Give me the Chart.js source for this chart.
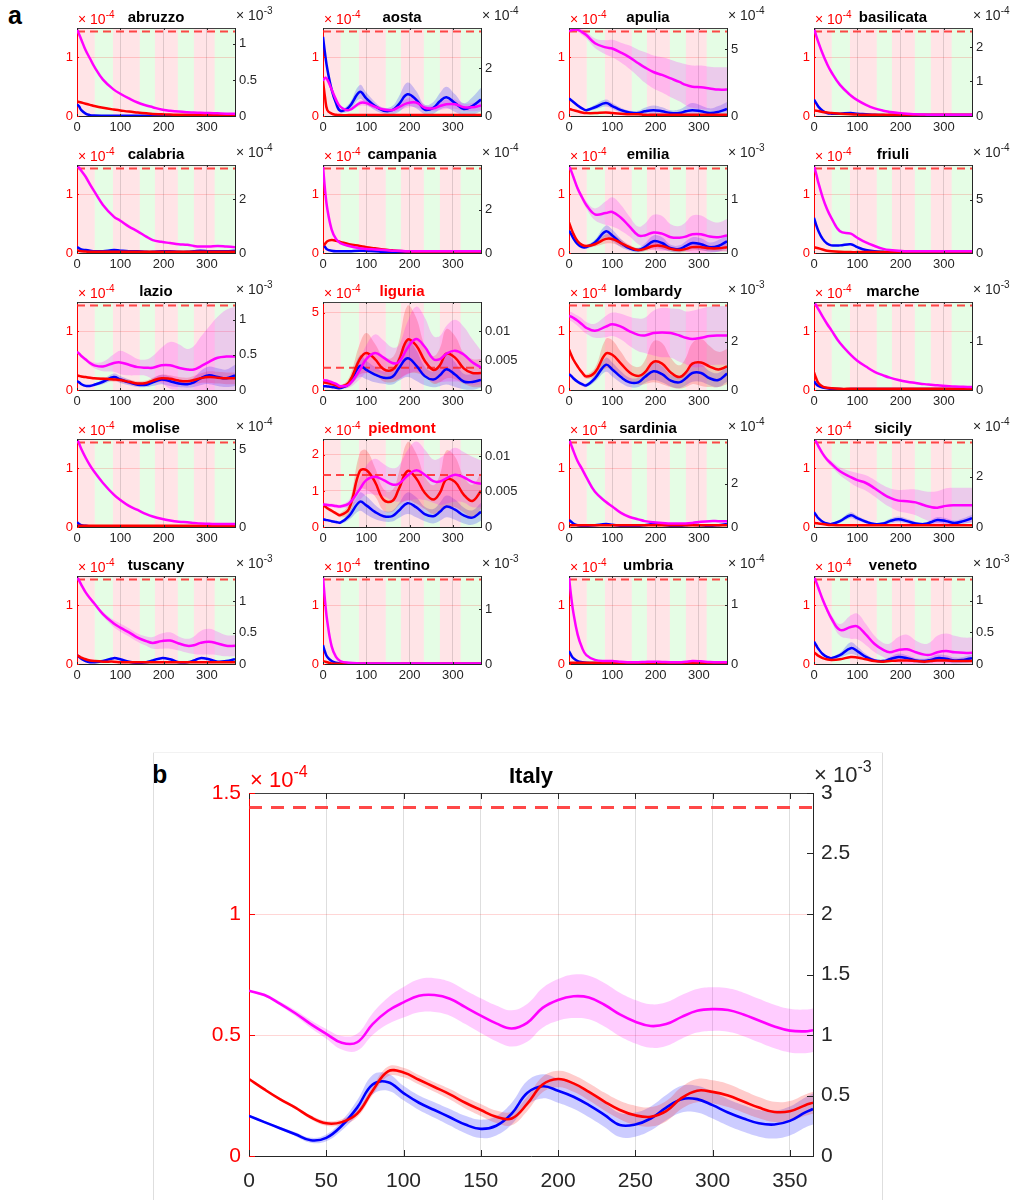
<!DOCTYPE html>
<html>
<head>
<meta charset="utf-8">
<script src="https://cdn.jsdelivr.net/npm/chart.js@4.4.1/dist/chart.umd.min.js"></script>
<style>
  body { margin: 0; background: #fff; width: 1014px; height: 1200px; position: relative; overflow: hidden;
         font-family: "Liberation Sans", Arial, Helvetica, sans-serif; }
  canvas { position: absolute; }
  .tag { position: absolute; font-weight: bold; font-size: 25px; color: #000; }
  .frame { position: absolute; background: #dedede; }
</style>
</head>
<body>
<div class="tag" style="left:8px;top:1px">a</div>
<div class="tag" style="left:152px;top:760px">b</div>
<div class="frame" style="left:153px;top:752px;width:1px;height:448px"></div>
<div class="frame" style="left:882px;top:752px;width:1px;height:448px"></div>
<div class="frame" style="left:153px;top:752px;width:730px;height:1px;background:#f2f2f2"></div>
<script>
// ---- shared axes / phases ----
const days = [0, 5, 10, 20, 30, 40, 60, 85, 100, 120, 140, 160, 175, 195, 215, 235, 255, 270, 285, 305, 325, 345, 365];
const xTicks = [0, 100, 200, 300];
const phaseEdges = [0, 41, 83, 145, 180, 233, 270, 318, 365]; // alternating pink / green, starting pink
const threshold = 1.44; // x10^-4

// ---- regional series (x10^-4, left axis units) ----
const abruzzo_m = [1.48,1.39,1.3,1.12,0.98,0.84,0.62,0.45,0.38,0.3,0.23,0.18,0.15,0.11,0.09,0.075,0.065,0.06,0.055,0.05,0.045,0.04,0.04];
const abruzzo_b = [0.2,0.16,0.1,0.04,0.015,0.008,0.005,0.005,0.005,0.005,0.005,0.005,0.005,0.005,0.005,0.005,0.005,0.005,0.005,0.005,0.005,0.005,0.005];
const abruzzo_r = [0.25,0.24,0.23,0.21,0.19,0.17,0.14,0.11,0.095,0.075,0.06,0.045,0.035,0.03,0.025,0.02,0.02,0.02,0.02,0.02,0.02,0.02,0.02];

const aosta_m = [0.6,0.65,0.62,0.45,0.28,0.16,0.1,0.22,0.22,0.16,0.11,0.1,0.15,0.22,0.23,0.14,0.13,0.17,0.2,0.2,0.15,0.15,0.18];
const aosta_mS = [0.03,0.03,0.03,0.03,0.02,0.02,0.02,0.05,0.05,0.04,0.03,0.04,0.06,0.08,0.08,0.05,0.05,0.07,0.08,0.08,0.06,0.07,0.08];
const aosta_b = [1.35,1.05,0.8,0.45,0.22,0.09,0.15,0.41,0.3,0.17,0.09,0.1,0.2,0.37,0.28,0.11,0.14,0.25,0.32,0.22,0.12,0.17,0.28];
const aosta_bS = [0.02,0.02,0.02,0.03,0.03,0.03,0.06,0.12,0.1,0.07,0.05,0.07,0.13,0.2,0.15,0.08,0.1,0.14,0.18,0.15,0.1,0.15,0.2];
const aosta_r = [0.6,0.3,0.1,0.04,0.02,0.015,0.015,0.015,0.015,0.015,0.015,0.015,0.015,0.015,0.015,0.015,0.015,0.015,0.015,0.015,0.015,0.015,0.015];

const apulia_m = [1.45,1.46,1.47,1.47,1.43,1.38,1.24,1.17,1.15,1.08,1.0,0.9,0.83,0.75,0.7,0.64,0.58,0.53,0.5,0.49,0.47,0.45,0.45];
const apulia_mS = [0.03,0.03,0.03,0.04,0.05,0.06,0.08,0.12,0.15,0.17,0.2,0.23,0.26,0.28,0.3,0.32,0.33,0.35,0.36,0.37,0.37,0.38,0.38];
const apulia_b = [0.3,0.27,0.24,0.18,0.13,0.1,0.15,0.22,0.17,0.1,0.06,0.05,0.08,0.1,0.08,0.05,0.05,0.08,0.1,0.08,0.05,0.07,0.12];
const apulia_bS = [0.02,0.02,0.02,0.02,0.02,0.02,0.04,0.06,0.05,0.04,0.03,0.04,0.06,0.08,0.07,0.05,0.06,0.09,0.12,0.1,0.08,0.1,0.12];
const apulia_r = [0.12,0.11,0.1,0.08,0.06,0.05,0.05,0.06,0.05,0.04,0.03,0.03,0.02,0.02,0.02,0.02,0.02,0.02,0.02,0.02,0.02,0.02,0.02];

const basilicata_m = [1.5,1.37,1.26,1.06,0.89,0.75,0.53,0.35,0.27,0.19,0.13,0.09,0.07,0.05,0.04,0.03,0.025,0.02,0.02,0.02,0.02,0.02,0.02];
const basilicata_b = [0.28,0.22,0.16,0.09,0.05,0.04,0.04,0.05,0.04,0.03,0.02,0.015,0.015,0.015,0.015,0.015,0.015,0.015,0.015,0.015,0.015,0.015,0.015];
const basilicata_r = [0.1,0.09,0.085,0.07,0.06,0.05,0.04,0.03,0.025,0.02,0.02,0.02,0.02,0.02,0.02,0.02,0.02,0.02,0.02,0.02,0.02,0.02,0.02];

const calabria_m = [1.48,1.45,1.4,1.3,1.17,1.05,0.82,0.62,0.55,0.45,0.37,0.28,0.22,0.19,0.17,0.15,0.14,0.12,0.11,0.11,0.12,0.11,0.1];
const calabria_b = [0.1,0.08,0.06,0.05,0.04,0.03,0.03,0.05,0.04,0.03,0.03,0.02,0.02,0.03,0.03,0.02,0.02,0.03,0.04,0.03,0.03,0.03,0.04];
const calabria_r = [0.04,0.035,0.03,0.025,0.02,0.02,0.02,0.02,0.02,0.02,0.02,0.02,0.02,0.02,0.02,0.02,0.02,0.02,0.02,0.02,0.02,0.02,0.02];

const campania_m = [1.48,1.05,0.75,0.4,0.24,0.17,0.12,0.08,0.07,0.06,0.05,0.04,0.04,0.03,0.03,0.03,0.03,0.03,0.03,0.03,0.03,0.03,0.03];
const campania_b = [0.15,0.1,0.06,0.04,0.03,0.03,0.03,0.04,0.035,0.03,0.02,0.02,0.02,0.02,0.02,0.02,0.02,0.02,0.02,0.02,0.02,0.02,0.02];
const campania_r = [0.12,0.16,0.2,0.22,0.21,0.19,0.15,0.12,0.1,0.08,0.06,0.045,0.035,0.025,0.02,0.02,0.02,0.02,0.02,0.02,0.02,0.02,0.02];

const emilia_m = [1.48,1.4,1.3,1.1,0.95,0.82,0.66,0.68,0.7,0.6,0.45,0.3,0.3,0.35,0.33,0.27,0.26,0.28,0.32,0.32,0.28,0.27,0.3];
const emilia_mS = [0.02,0.02,0.03,0.04,0.05,0.06,0.1,0.2,0.25,0.22,0.17,0.15,0.2,0.3,0.3,0.22,0.2,0.25,0.32,0.32,0.28,0.25,0.28];
const emilia_b = [0.38,0.32,0.25,0.15,0.1,0.1,0.18,0.37,0.3,0.17,0.08,0.05,0.1,0.2,0.17,0.08,0.07,0.12,0.17,0.15,0.1,0.12,0.2];
const emilia_bS = [0.02,0.02,0.02,0.02,0.02,0.03,0.05,0.1,0.1,0.07,0.04,0.04,0.06,0.1,0.1,0.06,0.06,0.08,0.1,0.1,0.08,0.1,0.12];
const emilia_r = [0.52,0.42,0.33,0.2,0.14,0.12,0.15,0.24,0.24,0.17,0.1,0.05,0.07,0.12,0.12,0.07,0.05,0.07,0.1,0.1,0.08,0.08,0.1];
const emilia_rS = [0.02,0.02,0.02,0.02,0.02,0.02,0.04,0.08,0.08,0.06,0.04,0.03,0.04,0.06,0.06,0.04,0.04,0.05,0.06,0.06,0.05,0.05,0.06];

const friuli_m = [1.48,1.35,1.2,0.95,0.75,0.6,0.37,0.33,0.26,0.18,0.12,0.07,0.05,0.04,0.03,0.03,0.03,0.03,0.03,0.03,0.03,0.03,0.03];
const friuli_b = [0.6,0.48,0.38,0.24,0.16,0.13,0.13,0.15,0.1,0.05,0.03,0.02,0.015,0.015,0.015,0.015,0.015,0.015,0.015,0.015,0.015,0.015,0.015];
const friuli_r = [0.1,0.09,0.08,0.06,0.04,0.03,0.02,0.015,0.015,0.015,0.015,0.015,0.015,0.015,0.015,0.015,0.015,0.015,0.015,0.015,0.015,0.015,0.015];

const lazio_m = [0.65,0.62,0.58,0.52,0.46,0.42,0.4,0.46,0.47,0.43,0.39,0.38,0.38,0.42,0.42,0.38,0.35,0.35,0.4,0.48,0.55,0.57,0.57];
const lazio_mS = [0.02,0.02,0.02,0.03,0.04,0.05,0.08,0.15,0.2,0.18,0.14,0.14,0.2,0.3,0.4,0.4,0.35,0.4,0.5,0.6,0.7,0.8,0.85];
const lazio_b = [0.15,0.13,0.1,0.07,0.07,0.09,0.14,0.22,0.18,0.13,0.09,0.09,0.13,0.18,0.15,0.11,0.1,0.13,0.2,0.25,0.22,0.2,0.25];
const lazio_bS = [0.02,0.02,0.02,0.02,0.02,0.02,0.04,0.06,0.06,0.05,0.04,0.04,0.06,0.08,0.08,0.06,0.06,0.08,0.12,0.15,0.15,0.15,0.18];
const lazio_r = [0.25,0.24,0.23,0.22,0.21,0.2,0.19,0.18,0.17,0.14,0.11,0.12,0.16,0.2,0.19,0.16,0.15,0.17,0.2,0.22,0.21,0.2,0.2];
const lazio_rS = [0.02,0.02,0.02,0.02,0.02,0.02,0.03,0.04,0.04,0.04,0.04,0.04,0.05,0.06,0.06,0.06,0.06,0.07,0.08,0.1,0.1,0.1,0.1];

const liguria_m = [0.65,0.62,0.6,0.5,0.4,0.25,0.35,1.3,2.0,2.4,2.1,1.75,1.8,2.7,3.3,2.8,2.0,2.0,2.35,2.55,2.3,1.8,1.45];
const liguria_mS = [0.1,0.1,0.1,0.1,0.1,0.1,0.2,0.6,0.9,1.2,1.1,1.0,1.1,1.7,2.1,1.9,1.5,1.5,1.8,2.0,1.8,1.5,1.1];
const liguria_b = [0.25,0.24,0.23,0.2,0.15,0.12,0.4,1.55,1.3,1.0,0.8,0.85,1.4,2.05,1.6,0.9,0.68,0.95,1.35,1.0,0.55,0.52,0.65];
const liguria_bS = [0.05,0.05,0.05,0.05,0.05,0.05,0.15,0.7,0.6,0.5,0.4,0.5,0.8,1.2,1.0,0.6,0.5,0.7,1.0,0.8,0.5,0.5,0.5];
const liguria_r = [0.5,0.48,0.45,0.38,0.3,0.2,0.5,2.0,2.4,2.0,1.35,1.3,1.9,3.25,2.9,1.9,1.3,1.6,2.35,2.1,1.4,1.1,1.1];
const liguria_rS = [0.1,0.1,0.1,0.1,0.1,0.1,0.3,1.0,1.3,1.0,0.8,0.8,1.2,2.2,1.8,1.0,0.9,1.1,1.6,1.4,1.0,0.9,0.9];

const lombardy_m = [1.26,1.25,1.23,1.18,1.12,1.06,1.01,1.08,1.12,1.08,1.0,0.94,0.93,0.97,0.98,0.97,0.93,0.89,0.87,0.89,0.92,0.93,0.93];
const lombardy_mS = [0.08,0.08,0.08,0.09,0.1,0.1,0.12,0.18,0.2,0.22,0.25,0.28,0.3,0.38,0.42,0.42,0.45,0.45,0.48,0.5,0.5,0.5,0.5];
const lombardy_b = [0.27,0.24,0.2,0.14,0.1,0.08,0.2,0.43,0.35,0.22,0.13,0.13,0.22,0.32,0.27,0.16,0.13,0.2,0.29,0.29,0.2,0.17,0.28];
const lombardy_bS = [0.03,0.03,0.03,0.03,0.03,0.03,0.06,0.12,0.12,0.1,0.08,0.08,0.1,0.15,0.14,0.1,0.1,0.12,0.15,0.15,0.12,0.12,0.14];
const lombardy_r = [0.69,0.6,0.52,0.4,0.3,0.23,0.3,0.62,0.6,0.45,0.3,0.24,0.3,0.48,0.45,0.3,0.22,0.3,0.45,0.47,0.4,0.35,0.4];
const lombardy_rS = [0.03,0.03,0.03,0.03,0.03,0.04,0.08,0.25,0.25,0.2,0.15,0.15,0.2,0.35,0.35,0.25,0.2,0.25,0.35,0.4,0.35,0.3,0.3];

const marche_m = [1.5,1.44,1.38,1.25,1.13,1.02,0.8,0.6,0.5,0.4,0.31,0.25,0.21,0.17,0.14,0.12,0.1,0.09,0.08,0.07,0.06,0.055,0.05];
const marche_b = [0.15,0.1,0.07,0.04,0.03,0.02,0.015,0.015,0.015,0.015,0.015,0.015,0.015,0.015,0.015,0.015,0.015,0.015,0.015,0.015,0.015,0.015,0.015];
const marche_r = [0.3,0.2,0.12,0.06,0.04,0.03,0.02,0.02,0.02,0.02,0.02,0.02,0.02,0.02,0.02,0.02,0.02,0.02,0.02,0.02,0.02,0.02,0.02];

const molise_m = [1.5,1.42,1.33,1.18,1.05,0.94,0.75,0.55,0.46,0.36,0.29,0.22,0.18,0.14,0.11,0.09,0.08,0.07,0.06,0.055,0.05,0.05,0.05];
const molise_b = [0.08,0.05,0.03,0.02,0.01,0.01,0.01,0.01,0.01,0.01,0.01,0.01,0.01,0.01,0.01,0.01,0.01,0.01,0.01,0.01,0.01,0.01,0.01];
const molise_r = [0.02,0.02,0.02,0.02,0.02,0.02,0.02,0.02,0.02,0.02,0.02,0.02,0.02,0.02,0.02,0.02,0.02,0.02,0.02,0.02,0.02,0.02,0.02];

const piedmont_m = [0.62,0.62,0.61,0.6,0.58,0.57,0.65,1.05,1.3,1.39,1.3,1.18,1.2,1.42,1.57,1.45,1.27,1.26,1.35,1.45,1.38,1.25,1.2];
const piedmont_mS = [0.05,0.05,0.05,0.05,0.05,0.05,0.1,0.3,0.4,0.5,0.45,0.45,0.5,0.7,0.8,0.7,0.6,0.65,0.7,0.75,0.7,0.7,0.65];
const piedmont_b = [0.21,0.2,0.19,0.16,0.14,0.12,0.3,0.7,0.6,0.42,0.3,0.3,0.45,0.66,0.55,0.36,0.3,0.42,0.57,0.48,0.32,0.26,0.42];
const piedmont_bS = [0.03,0.03,0.03,0.03,0.03,0.04,0.1,0.25,0.25,0.2,0.15,0.15,0.2,0.3,0.28,0.2,0.2,0.25,0.3,0.28,0.22,0.2,0.25];
const piedmont_r = [0.6,0.57,0.52,0.45,0.38,0.33,0.5,1.55,1.58,1.25,0.75,0.72,1.05,1.55,1.35,0.95,0.76,0.95,1.32,1.25,0.9,0.72,1.0];
const piedmont_rS = [0.05,0.05,0.05,0.05,0.05,0.06,0.15,0.5,0.55,0.4,0.3,0.3,0.45,0.8,0.7,0.45,0.4,0.5,0.8,0.7,0.5,0.45,0.5];

const sardinia_m = [1.5,1.4,1.3,1.12,0.99,0.85,0.6,0.43,0.35,0.24,0.17,0.13,0.1,0.08,0.07,0.06,0.06,0.06,0.07,0.09,0.1,0.1,0.1];
const sardinia_b = [0.12,0.09,0.06,0.03,0.02,0.02,0.03,0.05,0.04,0.02,0.02,0.02,0.03,0.05,0.04,0.02,0.02,0.03,0.04,0.03,0.02,0.03,0.05];
const sardinia_r = [0.03,0.03,0.03,0.03,0.03,0.03,0.03,0.03,0.03,0.03,0.03,0.03,0.03,0.03,0.03,0.03,0.03,0.03,0.03,0.03,0.03,0.03,0.03];

const sicily_m = [1.5,1.45,1.38,1.25,1.15,1.08,0.95,0.85,0.8,0.75,0.66,0.56,0.5,0.45,0.44,0.42,0.37,0.34,0.33,0.36,0.37,0.37,0.37];
const sicily_mS = [0.02,0.02,0.02,0.03,0.04,0.05,0.07,0.1,0.12,0.13,0.14,0.15,0.16,0.18,0.2,0.22,0.24,0.26,0.28,0.3,0.3,0.3,0.3];
const sicily_b = [0.25,0.2,0.15,0.09,0.06,0.05,0.1,0.2,0.15,0.09,0.05,0.06,0.1,0.13,0.1,0.06,0.05,0.08,0.12,0.1,0.07,0.1,0.15];
const sicily_bS = [0.02,0.02,0.02,0.02,0.02,0.02,0.03,0.05,0.04,0.03,0.02,0.03,0.04,0.05,0.04,0.03,0.03,0.04,0.05,0.05,0.04,0.05,0.06];
const sicily_r = [0.07,0.065,0.06,0.05,0.04,0.035,0.03,0.03,0.03,0.03,0.03,0.03,0.03,0.03,0.03,0.03,0.03,0.03,0.03,0.03,0.03,0.03,0.03];

const tuscany_m = [1.48,1.42,1.35,1.22,1.12,1.03,0.85,0.69,0.62,0.54,0.45,0.39,0.36,0.39,0.4,0.35,0.31,0.32,0.36,0.38,0.35,0.31,0.31];
const tuscany_mS = [0.02,0.02,0.02,0.02,0.03,0.03,0.04,0.06,0.07,0.07,0.07,0.08,0.1,0.13,0.14,0.12,0.12,0.15,0.2,0.22,0.2,0.18,0.18];
const tuscany_b = [0.15,0.12,0.09,0.05,0.03,0.03,0.05,0.1,0.08,0.04,0.02,0.03,0.06,0.1,0.08,0.03,0.03,0.06,0.1,0.08,0.04,0.05,0.08];
const tuscany_r = [0.15,0.13,0.11,0.08,0.06,0.05,0.04,0.04,0.03,0.03,0.03,0.03,0.03,0.03,0.03,0.03,0.03,0.03,0.03,0.03,0.03,0.03,0.03];

const trentino_m = [1.48,1.05,0.72,0.3,0.12,0.05,0.02,0.01,0.01,0.01,0.01,0.01,0.01,0.01,0.01,0.01,0.01,0.01,0.01,0.01,0.01,0.01,0.01];
const trentino_b = [0.32,0.2,0.12,0.05,0.02,0.01,0.005,0.005,0.005,0.005,0.005,0.005,0.005,0.005,0.005,0.005,0.005,0.005,0.005,0.005,0.005,0.005,0.005];
const trentino_r = [0.05,0.04,0.03,0.01,0.005,0.005,0.005,0.005,0.005,0.005,0.005,0.005,0.005,0.005,0.005,0.005,0.005,0.005,0.005,0.005,0.005,0.005,0.005];

const umbria_m = [1.48,1.15,0.88,0.5,0.28,0.15,0.07,0.05,0.05,0.04,0.03,0.03,0.035,0.04,0.035,0.03,0.03,0.04,0.05,0.045,0.035,0.03,0.03];
const umbria_b = [0.22,0.15,0.1,0.05,0.03,0.02,0.015,0.015,0.015,0.015,0.015,0.015,0.015,0.015,0.015,0.015,0.015,0.015,0.015,0.015,0.015,0.015,0.015];
const umbria_r = [0.02,0.02,0.02,0.02,0.02,0.02,0.02,0.02,0.02,0.02,0.02,0.02,0.02,0.02,0.02,0.02,0.02,0.02,0.02,0.02,0.02,0.02,0.02];

const veneto_m = [1.48,1.4,1.3,1.1,0.93,0.78,0.58,0.63,0.64,0.5,0.34,0.24,0.2,0.24,0.25,0.2,0.16,0.16,0.2,0.22,0.2,0.19,0.19];
const veneto_mS = [0.02,0.02,0.03,0.04,0.05,0.06,0.1,0.2,0.22,0.18,0.14,0.12,0.15,0.22,0.25,0.2,0.18,0.22,0.28,0.3,0.28,0.26,0.26];
const veneto_b = [0.38,0.32,0.26,0.17,0.12,0.1,0.15,0.27,0.22,0.12,0.06,0.05,0.08,0.12,0.1,0.06,0.05,0.07,0.1,0.09,0.06,0.07,0.1];
const veneto_bS = [0.02,0.02,0.02,0.02,0.02,0.02,0.04,0.1,0.08,0.05,0.03,0.03,0.04,0.06,0.05,0.04,0.04,0.05,0.06,0.06,0.05,0.05,0.06];
const veneto_r = [0.2,0.17,0.14,0.1,0.08,0.07,0.08,0.12,0.11,0.08,0.05,0.04,0.05,0.06,0.06,0.05,0.04,0.05,0.06,0.06,0.05,0.05,0.05];

// ---- national series ----
const italyDays = [0,10,20,30,40,50,60,70,80,90,100,110,120,130,140,150,160,170,180,190,200,210,220,230,240,250,260,270,280,290,300,310,320,330,340,350,360,365];
const italyXTicks = [0, 50, 100, 150, 200, 250, 300, 350];
const italy_m = [0.683,0.665,0.63,0.59,0.545,0.505,0.468,0.47,0.545,0.6,0.635,0.662,0.665,0.65,0.615,0.58,0.548,0.527,0.55,0.612,0.645,0.66,0.655,0.625,0.585,0.555,0.537,0.545,0.575,0.6,0.607,0.603,0.585,0.56,0.535,0.518,0.515,0.52];
const italy_mS = [0.004,0.006,0.008,0.012,0.016,0.02,0.028,0.035,0.045,0.055,0.063,0.068,0.07,0.07,0.07,0.072,0.074,0.075,0.078,0.082,0.086,0.09,0.09,0.09,0.09,0.09,0.09,0.09,0.09,0.09,0.09,0.09,0.09,0.09,0.09,0.09,0.09,0.09];
const italy_r = [0.318,0.275,0.235,0.2,0.16,0.135,0.14,0.175,0.27,0.35,0.345,0.315,0.285,0.255,0.22,0.19,0.162,0.155,0.215,0.295,0.318,0.3,0.265,0.225,0.19,0.168,0.162,0.185,0.24,0.27,0.265,0.25,0.225,0.2,0.182,0.185,0.21,0.22];
const italy_rS = [0.004,0.005,0.006,0.007,0.008,0.01,0.012,0.015,0.018,0.02,0.02,0.02,0.02,0.022,0.024,0.025,0.026,0.028,0.03,0.032,0.034,0.035,0.036,0.037,0.038,0.04,0.04,0.042,0.045,0.048,0.048,0.048,0.046,0.044,0.042,0.042,0.044,0.045];
const italy_b = [0.166,0.14,0.115,0.09,0.065,0.075,0.125,0.2,0.295,0.305,0.26,0.22,0.19,0.16,0.13,0.112,0.125,0.175,0.26,0.288,0.27,0.245,0.21,0.17,0.128,0.13,0.155,0.2,0.235,0.235,0.21,0.18,0.155,0.135,0.13,0.145,0.18,0.194];
const italy_bS = [0.004,0.005,0.006,0.008,0.01,0.014,0.02,0.03,0.04,0.035,0.03,0.03,0.032,0.034,0.036,0.038,0.04,0.045,0.05,0.05,0.05,0.05,0.05,0.05,0.05,0.05,0.05,0.052,0.055,0.055,0.055,0.055,0.055,0.055,0.058,0.06,0.062,0.064];

const FONT = '"Liberation Sans", Arial, Helvetica, sans-serif';
const MAG = '#ff00ff', BLUE = '#0000ff', RED = '#ff0000';
const MAG_BAND = 'rgba(255,0,255,0.2)', BLUE_BAND = 'rgba(0,0,255,0.2)', RED_BAND = 'rgba(255,0,0,0.2)';

const panels = [
  { name: 'abruzzo', m: abruzzo_m, b: abruzzo_b, r: abruzzo_r, y2Max: 1.22, y2Ticks: [0, 0.5, 1], exp2: '-3' },
  { name: 'aosta', m: aosta_m, mS: aosta_mS, b: aosta_b, bS: aosta_bS, r: aosta_r, y2Max: 3.67, y2Ticks: [0, 2], exp2: '-4' },
  { name: 'apulia', m: apulia_m, mS: apulia_mS, b: apulia_b, bS: apulia_bS, r: apulia_r, y2Max: 6.57, y2Ticks: [0, 5], exp2: '-4' },
  { name: 'basilicata', m: basilicata_m, b: basilicata_b, r: basilicata_r, y2Max: 2.55, y2Ticks: [0, 1, 2], exp2: '-4' },
  { name: 'calabria', m: calabria_m, b: calabria_b, r: calabria_r, y2Max: 3.28, y2Ticks: [0, 2], exp2: '-4' },
  { name: 'campania', m: campania_m, b: campania_b, r: campania_r, y2Max: 4.05, y2Ticks: [0, 2], exp2: '-4' },
  { name: 'emilia', m: emilia_m, mS: emilia_mS, b: emilia_b, bS: emilia_bS, r: emilia_r, rS: emilia_rS, y2Max: 1.64, y2Ticks: [0, 1], exp2: '-3' },
  { name: 'friuli', m: friuli_m, b: friuli_b, r: friuli_r, y2Max: 8.24, y2Ticks: [0, 5], exp2: '-4' },
  { name: 'lazio', m: lazio_m, mS: lazio_mS, b: lazio_b, bS: lazio_bS, r: lazio_r, rS: lazio_rS, y2Max: 1.25, y2Ticks: [0, 0.5, 1], exp2: '-3' },
  { name: 'liguria', red: true, yMax: 5.7, yTicks: [0, 5], m: liguria_m, mS: liguria_mS, b: liguria_b, bS: liguria_bS, r: liguria_r, rS: liguria_rS, y2Max: 0.015, y2Ticks: [0, 0.005, 0.01], exp2: null },
  { name: 'lombardy', m: lombardy_m, mS: lombardy_mS, b: lombardy_b, bS: lombardy_bS, r: lombardy_r, rS: lombardy_rS, y2Max: 3.66, y2Ticks: [0, 2], exp2: '-3' },
  { name: 'marche', m: marche_m, b: marche_b, r: marche_r, y2Max: 1.83, y2Ticks: [0, 1], exp2: '-3' },
  { name: 'molise', m: molise_m, b: molise_b, r: molise_r, y2Max: 5.65, y2Ticks: [0, 5], exp2: '-4' },
  { name: 'piedmont', red: true, yMax: 2.44, yTicks: [0, 1, 2], m: piedmont_m, mS: piedmont_mS, b: piedmont_b, bS: piedmont_bS, r: piedmont_r, rS: piedmont_rS, y2Max: 0.0124, y2Ticks: [0, 0.005, 0.01], exp2: null },
  { name: 'sardinia', m: sardinia_m, b: sardinia_b, r: sardinia_r, y2Max: 4.05, y2Ticks: [0, 2], exp2: '-4' },
  { name: 'sicily', m: sicily_m, mS: sicily_mS, b: sicily_b, bS: sicily_bS, r: sicily_r, y2Max: 3.5, y2Ticks: [0, 2], exp2: '-4' },
  { name: 'tuscany', m: tuscany_m, mS: tuscany_mS, b: tuscany_b, r: tuscany_r, y2Max: 1.4, y2Ticks: [0, 0.5, 1], exp2: '-3' },
  { name: 'trentino', m: trentino_m, b: trentino_b, r: trentino_r, y2Max: 1.6, y2Ticks: [0, 1], exp2: '-3' },
  { name: 'umbria', m: umbria_m, b: umbria_b, r: umbria_r, y2Max: 1.48, y2Ticks: [0, 1], exp2: '-4' },
  { name: 'veneto', m: veneto_m, mS: veneto_mS, b: veneto_b, bS: veneto_bS, r: veneto_r, y2Max: 1.39, y2Ticks: [0, 0.5, 1], exp2: '-3' },
];

function pts(xs, ys) { return xs.map((x, i) => ({ x: x, y: ys[i] })); }

function buildDatasets(xs, lines, lw, dash, dashW) {
  const ds = [];
  // lines first so they sit on top of the shaded bands
  lines.forEach(l => ds.push({
    data: pts(xs, l.y), borderColor: l.color, borderWidth: lw, pointRadius: 0,
    fill: false, tension: 0.4
  }));
  ds.push({
    data: [{ x: 0, y: threshold }, { x: 365, y: threshold }],
    borderColor: 'rgba(255,40,40,0.85)', borderWidth: dashW, borderDash: dash,
    pointRadius: 0, fill: false
  });
  lines.forEach(l => {
    if (!l.s) return;
    ds.push({
      data: xs.map((x, i) => ({ x: x, y: l.y[i] + l.s[i] })), borderWidth: 0, pointRadius: 0,
      fill: '+1', backgroundColor: l.band, tension: 0.4
    });
    ds.push({
      data: xs.map((x, i) => ({ x: x, y: Math.max(0, l.y[i] - l.s[i]) })), borderWidth: 0, pointRadius: 0,
      fill: false, tension: 0.4
    });
  });
  return ds;
}

function drawExp(ctx, x, y, exp, color, size) {
  ctx.fillStyle = color;
  ctx.textAlign = 'left';
  ctx.textBaseline = 'alphabetic';
  ctx.font = size + 'px ' + FONT;
  ctx.fillText('\u00d7 10', x, y);
  const w = ctx.measureText('\u00d7 10').width;
  ctx.font = Math.round(size * 0.72) + 'px ' + FONT;
  ctx.fillText(exp, x + w, y - size * 0.45);
}

// phase shading, box outline, inward ticks, title and exponent labels
const decor = {
  id: 'decor',
  beforeDraw(chart, args, o) {
    if (!o.phases) return;
    const { ctx, chartArea: a } = chart;
    const x = chart.scales.x;
    ctx.save();
    for (let i = 0; i < phaseEdges.length - 1; i++) {
      const x0 = x.getPixelForValue(phaseEdges[i]);
      const x1 = x.getPixelForValue(phaseEdges[i + 1]);
      ctx.fillStyle = i % 2 ? 'rgba(40,235,40,0.12)' : 'rgba(255,30,60,0.12)';
      ctx.fillRect(x0, a.top, x1 - x0, a.bottom - a.top);
    }
    ctx.restore();
  },
  afterDraw(chart, args, o) {
    const { ctx, chartArea: a } = chart;
    const { x, y, y2 } = chart.scales;
    const t = o.tick;
    ctx.save();
    ctx.lineWidth = 1;
    const seg = (x0, y0, x1, y1, c) => {
      ctx.strokeStyle = c; ctx.beginPath(); ctx.moveTo(x0, y0); ctx.lineTo(x1, y1); ctx.stroke();
    };
    seg(a.left, a.top + 0.5, a.right, a.top + 0.5, '#404040');
    x.ticks.forEach(tk => {
      const px = Math.round(x.getPixelForValue(tk.value)) + 0.5;
      seg(px, a.bottom, px, a.bottom - t, '#262626');
      seg(px, a.top, px, a.top + t, '#262626');
    });
    y.ticks.forEach(tk => {
      const py = Math.round(y.getPixelForValue(tk.value)) + 0.5;
      seg(a.left, py, a.left + t, py, RED);
    });
    y2.ticks.forEach(tk => {
      const py = Math.round(y2.getPixelForValue(tk.value)) + 0.5;
      seg(a.right, py, a.right - t, py, '#262626');
    });
    ctx.font = 'bold ' + o.titleSize + 'px ' + FONT;
    ctx.fillStyle = o.titleColor;
    ctx.textAlign = 'center';
    ctx.textBaseline = 'alphabetic';
    ctx.fillText(o.title, (a.left + a.right) / 2, a.top - o.titleGap);
    drawExp(ctx, a.left + 1, a.top - o.expGap, '-4', RED, o.expSize);
    if (o.exp2) drawExp(ctx, a.right + 1, a.top - o.exp2Gap, o.exp2, '#262626', o.expSize);
    ctx.restore();
  }
};

function makeChart(cv, cfg) {
  const fixTicks = arr => s => { s.ticks = arr.map(v => ({ value: v })); };
  return new Chart(cv, {
    type: 'line',
    data: { datasets: cfg.datasets },
    options: {
      animation: false, responsive: false, devicePixelRatio: 1,
      layout: { padding: { top: cfg.padT, left: cfg.padL, right: 0, bottom: 0 } },
      plugins: {
        legend: { display: false }, tooltip: { enabled: false }, title: { display: false },
        decor: cfg.decor
      },
      scales: {
        x: {
          type: 'linear', min: 0, max: 365,
          afterBuildTicks: fixTicks(cfg.xTicks),
          afterFit: s => { s.height = cfg.xH; },
          grid: { color: c => c.tick && c.tick.value === 0 ? 'rgba(0,0,0,0)' : 'rgba(0,0,0,0.13)', drawTicks: false },
          border: { color: '#262626' },
          ticks: { color: '#262626', font: { family: FONT, size: cfg.font }, padding: cfg.xPad, maxRotation: 0, callback: v => String(v) }
        },
        y: {
          position: 'left', min: 0, max: cfg.yMax,
          afterBuildTicks: fixTicks(cfg.yTicks),
          afterFit: s => { s.width = cfg.yW; },
          grid: { color: c => c.tick && (c.tick.value === 0 || c.tick.value === cfg.yMax) ? 'rgba(0,0,0,0)' : 'rgba(255,0,0,0.16)', drawTicks: false },
          border: { color: RED },
          ticks: { color: RED, font: { family: FONT, size: cfg.font }, padding: cfg.yPad, callback: v => String(v) }
        },
        y2: {
          position: 'right', min: 0, max: cfg.y2Max,
          afterBuildTicks: fixTicks(cfg.y2Ticks),
          afterFit: s => { s.width = cfg.y2W; },
          grid: { display: false, drawTicks: false },
          border: { color: '#262626' },
          ticks: { color: '#262626', font: { family: FONT, size: cfg.font }, padding: cfg.yPad, callback: v => String(v) }
        }
      }
    },
    plugins: [decor]
  });
}

// ---- panel a: regional grid ----
const colLeft = [77, 323, 569, 814];
const rowTop = 28, rowStep = 137, plotW = 158, plotH = 88;

panels.forEach((p, i) => {
  const col = i % 4, row = Math.floor(i / 4);
  const padL = 6, yW = 24, y2W = 45, padT = 28, xH = 21;
  const cv = document.createElement('canvas');
  cv.width = padL + yW + plotW + y2W;
  cv.height = padT + plotH + xH;
  cv.style.left = (colLeft[col] - padL - yW) + 'px';
  cv.style.top = (rowTop + row * rowStep - padT) + 'px';
  document.body.appendChild(cv);
  const lines = [
    { y: p.m, s: p.mS, color: MAG, band: MAG_BAND },
    { y: p.r, s: p.rS, color: RED, band: RED_BAND },
    { y: p.b, s: p.bS, color: BLUE, band: BLUE_BAND }
  ];
  makeChart(cv, {
    datasets: buildDatasets(days, lines, 2.5, [8, 5], 2),
    padT: padT, padL: padL, xH: xH, yW: yW, y2W: y2W, font: 13, xPad: 4, yPad: 4,
    xTicks: xTicks, yMax: p.yMax || 1.5, yTicks: p.yTicks || [0, 1],
    y2Max: p.y2Max, y2Ticks: p.y2Ticks,
    decor: {
      phases: true, tick: 2, title: p.name, titleColor: p.red ? RED : '#000', titleSize: 15,
      titleGap: 6, expGap: 4, exp2Gap: 8, expSize: 14, exp2: p.exp2
    }
  });
});

// ---- panel b: Italy ----
(function () {
  const padL = 24, yW = 55, y2W = 60, padT = 38, xH = 38;
  const cv = document.createElement('canvas');
  cv.width = padL + yW + 564 + y2W;
  cv.height = padT + 363 + xH;
  cv.style.left = (249 - padL - yW) + 'px';
  cv.style.top = (793 - padT) + 'px';
  document.body.appendChild(cv);
  const lines = [
    { y: italy_m, s: italy_mS, color: MAG, band: MAG_BAND },
    { y: italy_r, s: italy_rS, color: RED, band: RED_BAND },
    { y: italy_b, s: italy_bS, color: BLUE, band: BLUE_BAND }
  ];
  makeChart(cv, {
    datasets: buildDatasets(italyDays, lines, 2.6, [13, 9], 3),
    padT: padT, padL: padL, xH: xH, yW: yW, y2W: y2W, font: 21, xPad: 13, yPad: 8,
    xTicks: italyXTicks, yMax: 1.5, yTicks: [0, 0.5, 1, 1.5],
    y2Max: 3, y2Ticks: [0, 0.5, 1, 1.5, 2, 2.5, 3],
    decor: {
      phases: false, tick: 6, title: 'Italy', titleColor: '#000', titleSize: 22,
      titleGap: 10, expGap: 6, exp2Gap: 11, expSize: 22, exp2: '-3'
    }
  });
})();
</script>
</body>
</html>
